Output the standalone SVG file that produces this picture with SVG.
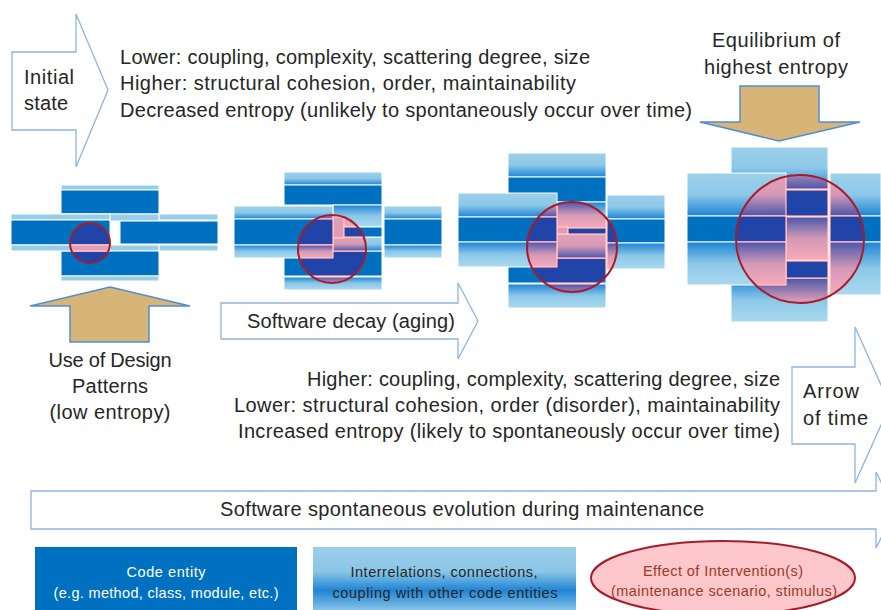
<svg xmlns="http://www.w3.org/2000/svg" width="881" height="610" viewBox="0 0 881 610">
  <defs>
    <style>
      text { font-family: "Liberation Sans", Arial, sans-serif; fill: #262626; }
      .t20 { font-size: 20px; }
      .t14 { font-size: 14.5px; }
      .ent { fill: #0070c0; stroke: #fff; stroke-width: 1; }
      .rel { fill: #98cde9; stroke: #fff; stroke-width: 1; }
      .rt { fill: url(#gTop); stroke: #fff; stroke-width: 1; }
      .rb { fill: url(#gBot); stroke: #fff; stroke-width: 1; }
      .hollow { fill: #fff; stroke: #8db4e2; stroke-width: 1.3; }
      .tan { fill: #d7b477; stroke: #4f8fd6; stroke-width: 1.5; }
      .ring { fill: none; stroke: #a51d2d; stroke-width: 2; }
    </style>
    <!-- relation strip above an entity: light fading to blue at the bottom -->
    <linearGradient id="gTop" x1="0" y1="0" x2="0" y2="1">
      <stop offset="0" stop-color="#9dd0ea"/>
      <stop offset="0.5" stop-color="#8cc8e8"/>
      <stop offset="1" stop-color="#1c84d6"/>
    </linearGradient>
    <!-- relation strip below an entity: blue fading to light -->
    <linearGradient id="gBot" x1="0" y1="0" x2="0" y2="1">
      <stop offset="0" stop-color="#1c84d6"/>
      <stop offset="0.5" stop-color="#8cc8e8"/>
      <stop offset="1" stop-color="#aad9ef"/>
    </linearGradient>
    <linearGradient id="gLegend" x1="0" y1="0" x2="0" y2="1">
      <stop offset="0" stop-color="#9ccfe9"/>
      <stop offset="0.35" stop-color="#8ac6e6"/>
      <stop offset="0.62" stop-color="#1f84d4"/>
      <stop offset="1" stop-color="#aad9ef"/>
    </linearGradient>
    <!-- recolours blues into the pink/indigo tones of an intervention zone -->
    <filter id="tint" color-interpolation-filters="sRGB">
      <feColorMatrix type="matrix" values="0 2.04 0 0 -0.77  0 0.97 0 0 -0.16  0 0.167 0 0 0.585  0 0 0 1 0"/>
    </filter>
    <clipPath id="clip-1"><circle cx="90" cy="243" r="20"/></clipPath>
    <clipPath id="clip-2"><circle cx="332" cy="249" r="34"/></clipPath>
    <clipPath id="clip-3"><circle cx="572" cy="247" r="45"/></clipPath>
    <clipPath id="clip-4"><circle cx="800" cy="239" r="64"/></clipPath>
  </defs>

  <!-- header texts -->
  <g id="top-notes" class="t20">
    <text x="120" y="64" textLength="470">Lower: coupling, complexity, scattering degree, size</text>
    <text x="120" y="90" textLength="456">Higher: structural cohesion, order, maintainability</text>
    <text x="120" y="117" textLength="572">Decreased entropy (unlikely to spontaneously occur over time)</text>
  </g>

  <g id="arrow-initial">
    <polygon class="hollow" points="12,52 76,52 76,14 108,90 76,167 76,130 12,130"/>
    <text class="t20" x="24" y="84" textLength="50">Initial</text>
    <text class="t20" x="24" y="110" textLength="44">state</text>
  </g>

  <g id="arrow-equilibrium">
    <text class="t20" x="776" y="47" text-anchor="middle" textLength="128">Equilibrium of</text>
    <text class="t20" x="776" y="74" text-anchor="middle" textLength="144">highest entropy</text>
    <polygon class="tan" points="740,86 819,86 819,122 860,122 779,141 700,122 740,122"/>
  </g>

  <!-- state 1: low entropy -->
  <g id="state-1">
    <g id="state-1-blocks">
      <rect class="rel" x="61" y="185" width="98" height="5"/>
      <rect class="ent" x="61" y="190" width="98" height="24"/>
      <rect class="rel" x="61" y="214" width="98" height="7"/>
      <rect class="rel" x="61" y="245" width="98" height="6"/>
      <rect class="ent" x="61" y="251" width="98" height="25"/>
      <rect class="rel" x="61" y="276" width="98" height="5"/>
      <rect class="rel" x="11" y="214" width="99" height="6"/>
      <rect class="ent" x="11" y="220" width="99" height="25"/>
      <rect class="rel" x="11" y="245" width="99" height="6"/>
      <rect class="rel" x="159" y="214" width="59" height="6"/>
      <rect class="ent" x="120" y="221" width="98" height="23"/>
      <rect class="rel" x="159" y="245" width="59" height="6"/>
    </g>
    <use href="#state-1-blocks" clip-path="url(#clip-1)" filter="url(#tint)"/>
    <circle class="ring" cx="90" cy="243" r="20"/>
  </g>

  <!-- state 2 -->
  <g id="state-2">
    <g id="state-2-blocks">
      <rect class="rt" x="284" y="172" width="98" height="13"/>
      <rect class="ent" x="284" y="185" width="98" height="20"/>
      <rect class="rb" x="333" y="205" width="49" height="22"/>
      <rect class="ent" x="284" y="251" width="98" height="25"/>
      <rect class="rb" x="284" y="277" width="98" height="13"/>
      <rect class="rt" x="333" y="237" width="49" height="14"/>
      <rect class="rel" x="333" y="217" width="11" height="21"/>
      <rect class="ent" x="344" y="227" width="38" height="10"/>
      <rect class="rt" x="234" y="206" width="99" height="13"/>
      <rect class="ent" x="234" y="219" width="99" height="26"/>
      <rect class="rb" x="234" y="245" width="99" height="13"/>
      <rect class="rt" x="384" y="206" width="58" height="13"/>
      <rect class="ent" x="384" y="219" width="58" height="26"/>
      <rect class="rb" x="384" y="245" width="58" height="13"/>
    </g>
    <use href="#state-2-blocks" clip-path="url(#clip-2)" filter="url(#tint)"/>
    <circle class="ring" cx="332" cy="249" r="34"/>
  </g>

  <!-- state 3 -->
  <g id="state-3">
    <g id="state-3-blocks">
      <rect class="rt" x="508" y="153" width="98" height="24"/>
      <rect class="ent" x="508" y="177" width="98" height="25"/>
      <rect class="rb" x="557" y="202" width="49" height="26"/>
      <rect class="ent" x="508" y="258" width="98" height="25"/>
      <rect class="rb" x="508" y="284" width="98" height="24"/>
      <rect class="rt" x="557" y="234" width="49" height="24"/>
      <rect class="rel" x="557" y="227" width="11" height="7"/>
      <rect class="ent" x="568" y="228" width="38" height="6"/>
      <rect class="rt" x="458" y="193" width="99" height="24"/>
      <rect class="ent" x="458" y="217" width="99" height="25"/>
      <rect class="rb" x="458" y="242" width="99" height="25"/>
      <rect class="rt" x="607" y="195" width="58" height="24"/>
      <rect class="ent" x="607" y="219" width="58" height="24"/>
      <rect class="rb" x="607" y="243" width="58" height="26"/>
    </g>
    <use href="#state-3-blocks" clip-path="url(#clip-3)" filter="url(#tint)"/>
    <circle class="ring" cx="572" cy="247" r="45"/>
  </g>

  <!-- state 4: equilibrium -->
  <g id="state-4">
    <g id="state-4-blocks">
      <rect class="rt" x="731" y="147" width="97" height="42"/>
      <rect class="ent" x="731" y="190" width="97" height="26"/>
      <rect class="rb" x="731" y="278" width="97" height="44"/>
      <rect class="rb" x="786" y="217" width="42" height="43"/>
      <rect class="ent" x="786" y="261" width="42" height="17"/>
      <rect class="rt" x="687" y="173" width="99" height="43"/>
      <rect class="ent" x="687" y="216" width="99" height="26"/>
      <rect class="rb" x="687" y="242" width="99" height="43"/>
      <rect class="rt" x="830" y="173" width="51" height="43"/>
      <rect class="ent" x="830" y="216" width="51" height="26"/>
      <rect class="rb" x="830" y="242" width="51" height="53"/>
    </g>
    <use href="#state-4-blocks" clip-path="url(#clip-4)" filter="url(#tint)"/>
    <circle class="ring" cx="800" cy="239" r="64"/>
  </g>

  <g id="arrow-design-patterns">
    <polygon class="tan" points="110,287 190,306 149,306 149,342 70,342 70,306 30,306"/>
    <text class="t20" x="110" y="367" text-anchor="middle" textLength="123">Use of Design</text>
    <text class="t20" x="110" y="393" text-anchor="middle" textLength="76">Patterns</text>
    <text class="t20" x="110" y="419" text-anchor="middle" textLength="121">(low entropy)</text>
  </g>

  <g id="arrow-decay">
    <polygon class="hollow" points="221,303 458,303 458,283 478,321 458,359 458,339 221,339"/>
    <text class="t20" x="247" y="328" textLength="208">Software decay (aging)</text>
  </g>

  <g id="bottom-notes" class="t20" text-anchor="end">
    <text x="780" y="386" textLength="473">Higher: coupling, complexity, scattering degree, size</text>
    <text x="780" y="412" textLength="546">Lower: structural cohesion, order (disorder), maintainability</text>
    <text x="780" y="438" textLength="542">Increased entropy (likely to spontaneously occur over time)</text>
  </g>

  <g id="arrow-time">
    <polygon class="hollow" points="792,367 855,367 855,327 890,405 855,483 855,444 792,444"/>
    <text class="t20" x="803" y="398" textLength="56">Arrow</text>
    <text class="t20" x="803" y="425" textLength="65">of time</text>
  </g>

  <g id="arrow-evolution">
    <polygon class="hollow" points="31,491 876,491 876,472 895,510 876,548 876,529 31,529"/>
    <text class="t20" x="462" y="516" text-anchor="middle" textLength="484">Software spontaneous evolution during maintenance</text>
  </g>

  <!-- legend -->
  <g id="legend-entity">
    <rect x="35" y="547" width="262" height="70" fill="#0070c0"/>
    <text class="t14" x="166" y="577" text-anchor="middle" textLength="79" style="fill:#fff">Code entity</text>
    <text class="t14" x="166" y="598" text-anchor="middle" textLength="225" style="fill:#fff">(e.g. method, class, module, etc.)</text>
  </g>
  <g id="legend-relation">
    <rect x="313" y="547" width="263" height="70" fill="url(#gLegend)"/>
    <text class="t14" x="444" y="577" text-anchor="middle" textLength="187">Interrelations, connections,</text>
    <text class="t14" x="445" y="598" text-anchor="middle" textLength="225">coupling with other code entities</text>
  </g>
  <g id="legend-intervention">
    <ellipse cx="723" cy="578" rx="132" ry="37" fill="#fdc7cc" stroke="#a51d2d" stroke-width="2"/>
    <text class="t14" x="723" y="576" text-anchor="middle" textLength="160" style="fill:#9a3b26">Effect of Intervention(s)</text>
    <text class="t14" x="724" y="596" text-anchor="middle" textLength="226" style="fill:#9a3b26">(maintenance scenario, stimulus)</text>
  </g>
</svg>
